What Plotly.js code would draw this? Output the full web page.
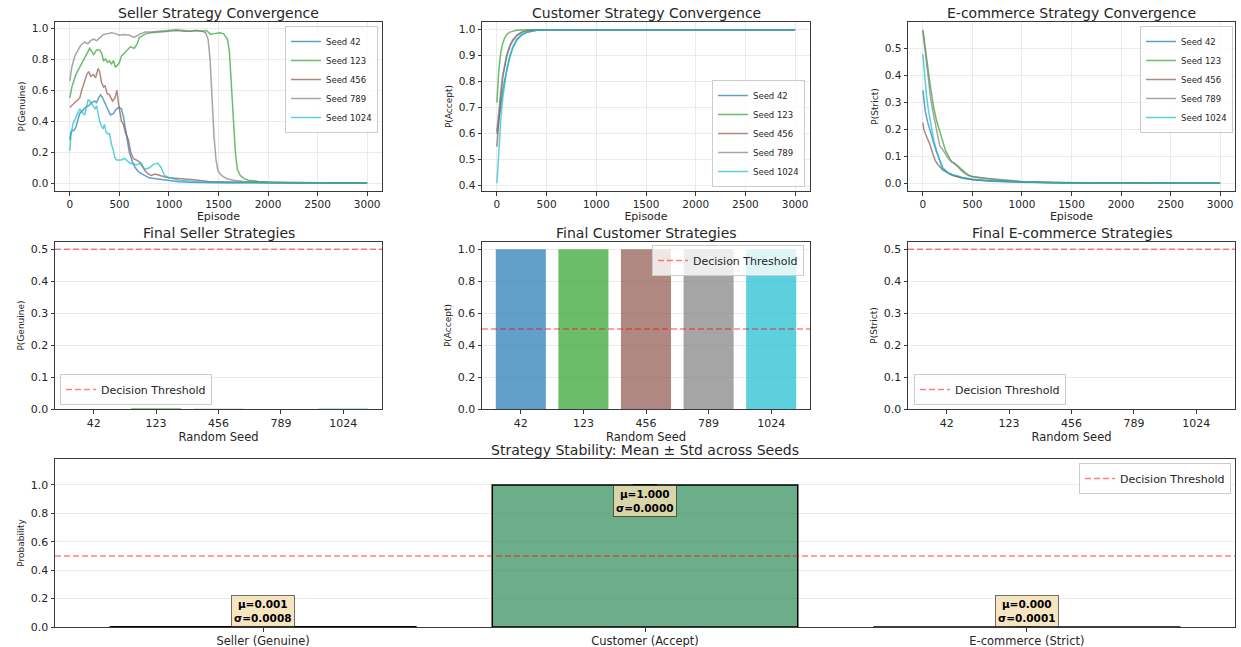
<!DOCTYPE html>
<html>
<head>
<meta charset="utf-8">
<script src="https://cdn.plot.ly/plotly-3.0.1.min.js"></script>
<style>html,body{margin:0;padding:0;background:#fff;}#chart{width:1241px;height:647px;}</style>
</head>
<body>
<div id="chart"></div>
<script>
// ---------------- DATA ----------------
const seeds = ['42', '123', '456', '789', '1024'];
const seedColors = ['#1f77b4', '#2ca02c', '#8c564b', '#7f7f7f', '#17becf'];
const THRESHOLD = 0.5;

// Seller P(Genuine) over episodes
const sellerEp42 = [0,10,20,40,60,80,100,130,160,190,220,250,270,290,310,330,350,380,410,440,470,500,520,540,560,580,600,630,660,700,750,800,850,900,950,1000,1100,1200,1300,1500,1700,2000,2500,3000];
const sellerP42 = [0.28,0.33,0.34,0.34,0.36,0.40,0.45,0.47,0.49,0.50,0.52,0.53,0.52,0.55,0.57,0.55,0.52,0.48,0.44,0.45,0.48,0.49,0.48,0.43,0.36,0.27,0.20,0.14,0.10,0.07,0.05,0.035,0.03,0.025,0.02,0.015,0.01,0.007,0.005,0.004,0.003,0.002,0.0015,0.001];
const sellerEp123 = [0,20,60,100,140,170,200,220,240,270,300,320,340,360,380,400,420,440,460,480,500,520,550,580,610,650,680,700,730,770,820,900,1000,1080,1150,1200,1270,1330,1380,1420,1460,1510,1550,1590,1610,1630,1650,1670,1690,1720,1760,1800,1900,2000,2200,2500,3000];
const sellerP123 = [0.55,0.62,0.70,0.75,0.80,0.84,0.87,0.85,0.83,0.86,0.86,0.84,0.79,0.80,0.78,0.79,0.77,0.79,0.75,0.76,0.78,0.82,0.84,0.86,0.88,0.87,0.90,0.94,0.95,0.965,0.97,0.975,0.98,0.985,0.98,0.98,0.985,0.98,0.985,0.96,0.965,0.97,0.965,0.93,0.85,0.65,0.40,0.20,0.09,0.05,0.03,0.02,0.012,0.008,0.005,0.003,0.002];
const sellerEp456 = [0,50,100,120,150,170,190,210,240,260,285,300,320,340,355,375,400,430,455,475,490,505,520,540,560,590,615,640,670,700,730,760,790,820,860,880,920,960,1000,1100,1150,1250,1400,1600,2000,2500,3000];
const sellerP456 = [0.49,0.52,0.55,0.60,0.66,0.70,0.72,0.69,0.70,0.68,0.74,0.72,0.65,0.62,0.63,0.58,0.57,0.53,0.55,0.60,0.52,0.45,0.40,0.38,0.33,0.28,0.20,0.16,0.15,0.14,0.11,0.08,0.06,0.05,0.06,0.055,0.045,0.04,0.035,0.03,0.03,0.022,0.012,0.008,0.005,0.003,0.002];
const sellerEp789 = [0,20,50,80,110,150,180,210,240,270,300,340,380,420,460,500,550,600,650,700,760,820,900,1000,1070,1150,1220,1280,1340,1370,1395,1415,1435,1455,1475,1495,1530,1580,1650,1750,1900,2100,2500,3000];
const sellerP789 = [0.66,0.75,0.82,0.86,0.89,0.91,0.90,0.92,0.93,0.92,0.94,0.96,0.965,0.97,0.965,0.955,0.96,0.955,0.94,0.96,0.975,0.975,0.98,0.985,0.99,0.985,0.98,0.985,0.98,0.97,0.93,0.80,0.55,0.30,0.15,0.08,0.05,0.03,0.02,0.012,0.007,0.004,0.003,0.002];
const sellerEp1024 = [0,10,30,60,100,120,150,170,185,200,220,235,255,270,285,300,320,335,350,365,380,400,420,436,452,470,520,553,603,670,720,754,805,838,888,922,955,1006,1100,1300,1600,2000,2500,3000];
const sellerP1024 = [0.21,0.30,0.38,0.42,0.48,0.46,0.44,0.50,0.54,0.53,0.51,0.50,0.48,0.50,0.45,0.40,0.37,0.35,0.38,0.33,0.32,0.32,0.25,0.22,0.17,0.15,0.15,0.16,0.13,0.12,0.13,0.09,0.10,0.12,0.13,0.10,0.05,0.035,0.02,0.01,0.005,0.003,0.002,0.001];

// Customer P(Accept) over episodes
const customerEp = [0,20,40,60,80,100,130,160,200,250,300,400,500,1000,2000,3000];
const customerP42 = [0.60,0.66,0.72,0.77,0.81,0.85,0.895,0.93,0.96,0.98,0.99,0.998,1.0,1.0,1.0,1.0];
const customerP123 = [0.72,0.85,0.915,0.95,0.97,0.982,0.991,0.995,0.998,0.999,1.0,1.0,1.0,1.0,1.0,1.0];
const customerP456 = [0.55,0.66,0.75,0.82,0.865,0.90,0.935,0.958,0.978,0.99,0.996,0.999,1.0,1.0,1.0,1.0];
const customerP789 = [0.61,0.70,0.77,0.83,0.875,0.905,0.94,0.962,0.98,0.992,0.997,0.999,1.0,1.0,1.0,1.0];
const customerP1024 = [0.41,0.55,0.66,0.74,0.80,0.85,0.90,0.935,0.965,0.983,0.992,0.998,1.0,1.0,1.0,1.0];

// E-commerce P(Strict) over episodes
const ecomEpA = [0,10,25,50,75,100,125,150,175,200,250,300,400,500,700,1000,1500,2000,3000];
const ecomP42 = [0.345,0.30,0.265,0.225,0.19,0.16,0.13,0.105,0.08,0.058,0.04,0.03,0.02,0.013,0.008,0.004,0.001,0.0005,0.0002];
const ecomP456 = [0.225,0.20,0.185,0.165,0.14,0.11,0.085,0.07,0.058,0.05,0.04,0.03,0.02,0.014,0.009,0.005,0.002,0.001,0.0003];
const ecomEpB = [0,20,50,80,110,140,170,200,230,260,290,320,350,380,420,460,500,600,700,800,1000,1200,1500,2000,3000];
const ecomP123 = [0.57,0.52,0.43,0.35,0.28,0.23,0.19,0.15,0.12,0.10,0.08,0.075,0.065,0.055,0.04,0.03,0.025,0.02,0.015,0.01,0.006,0.003,0.001,0.0005,0.0002];
const ecomP789 = [0.565,0.50,0.40,0.31,0.25,0.19,0.14,0.125,0.105,0.09,0.08,0.072,0.063,0.05,0.038,0.03,0.024,0.02,0.017,0.012,0.007,0.004,0.002,0.0008,0.0003];
const ecomEpC = [0,15,35,57,85,110,140,170,200,250,300,350,400,500,600,800,1000,1300,1600,2000,3000];
const ecomP1024 = [0.48,0.40,0.33,0.27,0.21,0.16,0.12,0.08,0.05,0.04,0.032,0.028,0.022,0.016,0.012,0.007,0.004,0.002,0.001,0.0005,0.0002];

// Final strategies per seed
const finalSeller = [0.0003, 0.0024, 0.0008, 0.0002, 0.0013];
const finalCustomer = [0.99999, 0.99999, 1.0, 0.99999, 0.99998];
const finalEcom = [0.0002, 0.00003, 0.00005, 0.00015, 0.00002];

// Stability summary
const agentLabels = ['Seller (Genuine)', 'Customer (Accept)', 'E-commerce (Strict)'];
const agentColors = ['#CD5C5C', '#2E8B57', '#4682B4'];

// ---------------- HELPERS ----------------
const FONT = 'DejaVu Sans, Verdana, sans-serif';
const TXT = '#262626';
function mean(a) { return a.reduce((s, v) => s + v, 0) / a.length; }
function std(a) { const m = mean(a); return Math.sqrt(a.reduce((s, v) => s + (v - m) * (v - m), 0) / a.length); }
function hexA(hex, a) {
  const n = parseInt(hex.slice(1), 16);
  return 'rgba(' + ((n >> 16) & 255) + ',' + ((n >> 8) & 255) + ',' + (n & 255) + ',' + a + ')';
}

const sellerSeries = [[sellerEp42, sellerP42], [sellerEp123, sellerP123], [sellerEp456, sellerP456], [sellerEp789, sellerP789], [sellerEp1024, sellerP1024]];
const customerSeries = [[customerEp, customerP42], [customerEp, customerP123], [customerEp, customerP456], [customerEp, customerP789], [customerEp, customerP1024]];
const ecomSeries = [[ecomEpA, ecomP42], [ecomEpB, ecomP123], [ecomEpA, ecomP456], [ecomEpB, ecomP789], [ecomEpC, ecomP1024]];

const traces = [];
function addLines(series, xa, ya, legendId) {
  series.forEach((s, i) => {
    traces.push({
      type: 'scatter', mode: 'lines', x: s[0], y: s[1],
      xaxis: xa, yaxis: ya, name: 'Seed ' + seeds[i], legend: legendId,
      line: { color: hexA(seedColors[i], 0.7), width: 1.5 }, hoverinfo: 'x+y+name'
    });
  });
}
addLines(sellerSeries, 'x', 'y', 'legend');
addLines(customerSeries, 'x2', 'y2', 'legend2');
addLines(ecomSeries, 'x3', 'y3', 'legend3');

function addBars(vals, xa, ya) {
  traces.push({
    type: 'bar', x: seeds, y: vals, xaxis: xa, yaxis: ya, showlegend: false,
    marker: { color: seedColors.map(c => hexA(c, 0.7)), line: { width: 0 } }
  });
}
addBars(finalSeller, 'x4', 'y4');
addBars(finalCustomer, 'x5', 'y5');
addBars(finalEcom, 'x6', 'y6');

const finals = [finalSeller, finalCustomer, finalEcom];
const means = finals.map(mean);
const stds = finals.map(std);
traces.push({
  type: 'bar', x: agentLabels, y: means, xaxis: 'x7', yaxis: 'y7', showlegend: false,
  marker: { color: agentColors.map(c => hexA(c, 0.7)), line: { color: '#000', width: 1.5 } },
  error_y: { type: 'data', array: stds, visible: true, color: '#000', thickness: 1.5, width: 12 }
});

// legend-only entries for threshold lines
const thrLegends = [['x4', 'y4', 'legend4'], ['x5', 'y5', 'legend5'], ['x6', 'y6', 'legend6'], ['x7', 'y7', 'legend7']];
thrLegends.forEach(t => {
  traces.push({
    type: 'scatter', mode: 'lines', x: [null], y: [null], xaxis: t[0], yaxis: t[1],
    name: 'Decision Threshold', legend: t[2],
    line: { color: 'rgba(255,0,0,0.5)', width: 1.5, dash: '6px,3px' }
  });
});

// ---------------- LAYOUT ----------------
const W = 1241, H = 647;
const px = (a, b) => [a / W, b / W];
const py = (top, bottom) => [1 - bottom / H, 1 - top / H];
const col1 = px(55, 382), col2 = px(482, 810), col3 = px(908, 1235), full = px(55, 1235);
const rowTop = py(22, 191), rowMid = py(242, 409), rowBot = py(459, 627);

function axBase(extra) {
  return Object.assign({
    showline: true, mirror: true, linecolor: '#3a3a3a', linewidth: 1,
    ticks: 'outside', ticklen: 3.5, tickwidth: 1, tickcolor: '#3a3a3a',
    tickfont: { family: FONT, size: 10.5, color: TXT },
    gridcolor: '#e6e6e6', gridwidth: 0.8, zeroline: false, automargin: false, fixedrange: true
  }, extra);
}
function xTitle(t, s) { return { text: t, font: { family: FONT, size: s || 11, color: TXT }, standoff: 1 }; }
function yTitle(t) { return { text: t, font: { family: FONT, size: 9, color: TXT }, standoff: 4 }; }
const midTick = { family: FONT, size: 11, color: TXT };

const epRange = [-150, 3150];
const layout = {
  width: W, height: H, margin: { l: 0, r: 0, t: 0, b: 0 },
  paper_bgcolor: '#fff', plot_bgcolor: '#fff', showlegend: true,
  font: { family: FONT, color: TXT },
  bargap: 0.2,
  xaxis: axBase({ domain: col1, anchor: 'y', range: epRange, dtick: 500, showgrid: true, title: xTitle('Episode') }),
  yaxis: axBase({ domain: rowTop, anchor: 'x', range: [-0.05, 1.04], dtick: 0.2, tickformat: '.1f', showgrid: true, title: yTitle('P(Genuine)') }),
  xaxis2: axBase({ domain: col2, anchor: 'y2', range: epRange, dtick: 500, showgrid: true, title: xTitle('Episode') }),
  yaxis2: axBase({ domain: rowTop, anchor: 'x2', range: [0.38, 1.03], dtick: 0.1, tickformat: '.1f', showgrid: true, title: yTitle('P(Accept)') }),
  xaxis3: axBase({ domain: col3, anchor: 'y3', range: epRange, dtick: 500, showgrid: true, title: xTitle('Episode') }),
  yaxis3: axBase({ domain: rowTop, anchor: 'x3', range: [-0.0285, 0.5985], dtick: 0.1, tickformat: '.1f', showgrid: true, title: yTitle('P(Strict)') }),
  xaxis4: axBase({ domain: col1, anchor: 'y4', type: 'category', range: [-0.62, 4.62], showgrid: false, tickfont: midTick, title: xTitle('Random Seed', 11.5) }),
  yaxis4: axBase({ domain: rowMid, anchor: 'x4', range: [0, 0.5225], dtick: 0.1, tickformat: '.1f', showgrid: true, tickfont: midTick, title: yTitle('P(Genuine)') }),
  xaxis5: axBase({ domain: col2, anchor: 'y5', type: 'category', range: [-0.62, 4.62], showgrid: false, tickfont: midTick, title: xTitle('Random Seed', 11.5) }),
  yaxis5: axBase({ domain: rowMid, anchor: 'x5', range: [0, 1.045], dtick: 0.2, tickformat: '.1f', showgrid: true, tickfont: midTick, title: yTitle('P(Accept)') }),
  xaxis6: axBase({ domain: col3, anchor: 'y6', type: 'category', range: [-0.62, 4.62], showgrid: false, tickfont: midTick, title: xTitle('Random Seed', 11.5) }),
  yaxis6: axBase({ domain: rowMid, anchor: 'x6', range: [0, 0.5225], dtick: 0.1, tickformat: '.1f', showgrid: true, tickfont: midTick, title: yTitle('P(Strict)') }),
  xaxis7: axBase({ domain: full, anchor: 'y7', type: 'category', range: [-0.545, 2.545], showgrid: false, tickfont: { family: FONT, size: 11.5, color: TXT } }),
  yaxis7: axBase({ domain: rowBot, anchor: 'x7', range: [0, 1.183], dtick: 0.2, tickformat: '.1f', showgrid: true, tickfont: midTick, title: yTitle('Probability') }),
  shapes: [], annotations: []
};

// legends
const legBase = { bgcolor: 'rgba(255,255,255,0.8)', bordercolor: '#cccccc', borderwidth: 1, tracegroupgap: 0, itemwidth: 30 };
const smallFont = { family: FONT, size: 8.5, color: TXT };
const thrFont = { family: FONT, size: 11, color: TXT };
layout.legend = Object.assign({}, legBase, { x: 378 / W, xanchor: 'right', y: 1 - 26 / H, yanchor: 'top', font: smallFont });
layout.legend2 = Object.assign({}, legBase, { x: 805 / W, xanchor: 'right', y: 1 - 187 / H, yanchor: 'bottom', font: smallFont });
layout.legend3 = Object.assign({}, legBase, { x: 1233 / W, xanchor: 'right', y: 1 - 26 / H, yanchor: 'top', font: smallFont });
layout.legend4 = Object.assign({}, legBase, { x: 60 / W, xanchor: 'left', y: 1 - 405 / H, yanchor: 'bottom', font: thrFont });
layout.legend5 = Object.assign({}, legBase, { x: 804 / W, xanchor: 'right', y: 1 - 245 / H, yanchor: 'top', font: thrFont });
layout.legend6 = Object.assign({}, legBase, { x: 914 / W, xanchor: 'left', y: 1 - 405 / H, yanchor: 'bottom', font: thrFont });
layout.legend7 = Object.assign({}, legBase, { x: 1231 / W, xanchor: 'right', y: 1 - 463 / H, yanchor: 'top', font: thrFont });

// threshold lines
['4', '5', '6', '7'].forEach(k => {
  layout.shapes.push({
    type: 'line', xref: 'x' + k + ' domain', yref: 'y' + k, x0: 0, x1: 1, y0: THRESHOLD, y1: THRESHOLD,
    line: { color: 'rgba(255,0,0,0.5)', width: 1.5, dash: '6px,3px' }, layer: 'above'
  });
});

// subplot titles
const titles = [
  ['Seller Strategy Convergence', col1, rowTop],
  ['Customer Strategy Convergence', col2, rowTop],
  ['E-commerce Strategy Convergence', col3, rowTop],
  ['Final Seller Strategies', col1, rowMid],
  ['Final Customer Strategies', col2, rowMid],
  ['Final E-commerce Strategies', col3, rowMid],
  ['Strategy Stability: Mean ± Std across Seeds', full, rowBot]
];
titles.forEach(t => {
  layout.annotations.push({
    text: t[0], xref: 'paper', yref: 'paper', x: (t[1][0] + t[1][1]) / 2, y: t[2][1],
    xanchor: 'center', yanchor: 'bottom', yshift: -1, showarrow: false,
    font: { family: FONT, size: 14, color: TXT }
  });
});

// mean/std boxes
means.forEach((m, i) => {
  layout.annotations.push({
    text: '<b>μ=' + m.toFixed(3) + '<br>σ=' + stds[i].toFixed(4) + '</b>',
    xref: 'x7', yref: 'y7', x: agentLabels[i], y: m < THRESHOLD ? m + 0.11 : m - 0.11,
    xanchor: 'center', yanchor: 'middle', showarrow: false, align: 'center',
    font: { family: FONT, size: 10.5, color: '#000' },
    bgcolor: 'rgba(245,222,179,0.8)', bordercolor: 'rgba(0,0,0,0.55)', borderwidth: 1, borderpad: 2
  });
});

Plotly.newPlot('chart', traces, layout, { displayModeBar: false, staticPlot: true });
</script>
</body>
</html>
